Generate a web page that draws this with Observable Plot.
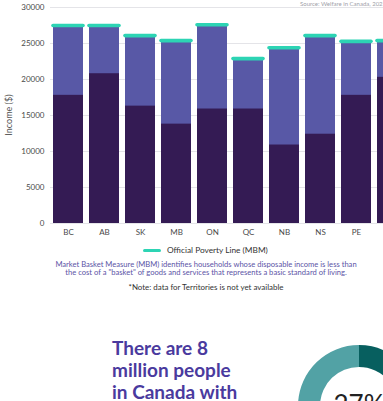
<!DOCTYPE html>
<html>
<head>
<meta charset="utf-8">
<script src="https://cdn.jsdelivr.net/npm/d3@7"></script>
<script src="https://cdn.jsdelivr.net/npm/@observablehq/plot@0.6"></script>
<style>
  html, body { margin: 0; padding: 0; background: #fff; }
  body { width: 383px; height: 401px; overflow: hidden; position: relative; font-family: Lato, "Open Sans", sans-serif; }
  .abs { position: absolute; white-space: nowrap; }
  #chart { position: absolute; left: 0; top: 0; width: 420px; }
  #chart svg { max-width: none !important; }
  #source { left: 300px; top: 0px; font-size: 6px; color: #a0a0a8; }
  #ytitle { left: 8px; top: 115px; font-size: 9px; color: #555; transform: translate(-50%, -50%) rotate(-90deg); }
  #legline { left: 143px; top: 249px; width: 18px; height: 3px; border-radius: 2px; background: #2dd4b4; }
  #legtext { left: 167px; top: 245px; font-size: 8.3px; color: #333; }
  #desc { left: 0; width: 412px; top: 259.5px; font-size: 7.6px; line-height: 8.6px; color: #5c54a6; text-align: center; }
  #note { left: 0; width: 412px; top: 282px; font-size: 7.95px; color: #333; text-align: center; }
  #headline { left: 112px; top: 337px; font-size: 19px; line-height: 22px; font-weight: 700; color: #4a3a9e; }
  #donut { position: absolute; left: 0; top: 0; }
</style>
</head>
<body>
<div id="chart"></div>
<div class="abs" id="source">Source: Welfare in Canada, 2021</div>
<div class="abs" id="ytitle">Income ($)</div>
<div class="abs" id="legline"></div>
<div class="abs" id="legtext">Official Poverty Line (MBM)</div>
<div class="abs" id="desc">Market Basket Measure (MBM) identifies households whose disposable income is less than<br>the cost of a "basket" of goods and services that represents a basic standard of living.</div>
<div class="abs" id="note">*Note: data for Territories is not yet available</div>
<div class="abs" id="headline">There are 8<br>million people<br>in Canada with</div>
<div id="donut"></div>
<script>
const provinces = ["BC", "AB", "SK", "MB", "ON", "QC", "NB", "NS", "PE", "NL"];
const povertyLine = [27500, 27500, 26100, 25400, 27600, 22900, 24400, 26100, 25300, 25400];
const income = [17800, 20800, 16300, 13800, 15900, 15900, 10900, 12400, 17800, 20300];
const yTicks = [0, 5000, 10000, 15000, 20000, 25000, 30000];
const donutLabels = ["share", "rest"];
const donutValues = [27, 73];

const data = provinces.map((p, i) => ({p, line: povertyLine[i], income: income[i]}));

const chart = Plot.plot({
  width: 420,
  height: 243,
  marginLeft: 50,
  marginRight: 11,
  marginTop: 7,
  marginBottom: 20,
  style: {fontFamily: "Lato, sans-serif", fontSize: "8px", color: "#4a4a4a", background: "transparent", maxWidth: "none"},
  x: {domain: provinces, paddingInner: 0.18, paddingOuter: 0, label: null},
  y: {domain: [0, 30000], label: null},
  marks: [
    Plot.gridY(yTicks, {stroke: "#e4e4e8", strokeOpacity: 1}),
    Plot.barY(data, {x: "p", y: "line", fill: "#5858a6"}),
    Plot.barY(data, {x: "p", y: "income", fill: "#341b54"}),
    Plot.tickY(data, {x: "p", y: "line", stroke: "#2dd4b4", strokeWidth: 3.6, strokeLinecap: "round"}),
    Plot.axisY(yTicks, {tickSize: 0, tickPadding: 6, tickFormat: d => String(d), label: null}),
    Plot.axisX({tickSize: 0, tickPadding: 6, label: null})
  ]
});
chart.style.maxWidth = "none";
document.getElementById("chart").appendChild(chart);

// Donut
const svg = d3.select("#donut").append("svg").attr("width", 383).attr("height", 401);
const pie = d3.pie().sort(null).value(d => d)(donutValues);
const arc = d3.arc().innerRadius(39).outerRadius(61);
const g = svg.append("g").attr("transform", "translate(359,406)");
g.selectAll("path").data(pie).join("path").attr("d", arc).attr("fill", (d, i) => i === 0 ? "#075f5f" : "#52a2a5");
g.append("text").attr("x", 0).attr("y", 8).attr("text-anchor", "middle")
  .attr("font-family", "Lato, sans-serif").attr("font-size", 26).attr("fill", "#222")
  .text(donutValues[0] + "%");
</script>
</body>
</html>
